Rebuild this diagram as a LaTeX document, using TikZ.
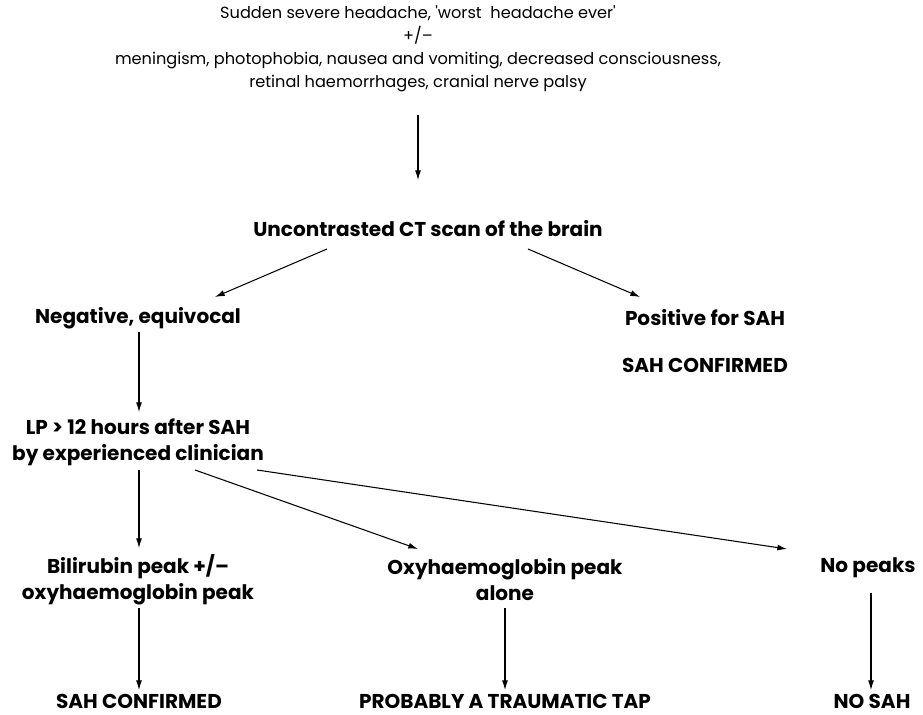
\documentclass[tikz,border=0pt]{standalone}
\usepackage{fontspec}
\setmainfont{Poppins}
\usetikzlibrary{arrows.meta,calc}

\begin{document}
\begin{tikzpicture}[x=0.02cm, y=-0.02cm,
    plain/.style={font=\fontsize{9.2}{13}\selectfont, align=center, inner sep=0pt},
    bold/.style={font=\fontsize{11.4}{14.8}\selectfont\bfseries, align=center, inner sep=0pt},
    arr/.style={-{Latex[length=5.5pt,width=3.4pt]}, line width=0.6pt}]
    \useasboundingbox (0,0) rectangle (923,715);

    % Presenting features
    \node[plain] (symptoms) at (418,49) {Sudden severe headache, \textquotesingle worst\ \ headache ever\textquotesingle\\
        +/--\\
        meningism, photophobia, nausea and vomiting, decreased consciousness,\\
        retinal haemorrhages, cranial nerve palsy};

    % CT branch
    \node[bold] (ct) at (428,229) {Uncontrasted CT scan of the brain};
    \node[bold] (neg) at (138,318) {Negative, equivocal};
    \node[bold] (pos) at (705,318) {Positive for SAH};
    \node[bold] (posconf) at (705,365) {SAH CONFIRMED};

    % LP branch
    \node[bold] (lp) at (138,442) {LP > 12 hours after SAH\\by experienced clinician};
    \node[bold] (bili) at (138,580) {Bilirubin peak +/--\\oxyhaemoglobin peak};
    \node[bold] (oxy) at (505,580) {Oxyhaemoglobin peak\\alone};
    \node[bold] (nopeak) at (868,568) {No peaks};

    % Outcomes
    \node[bold] (sahconf) at (139,701) {SAH CONFIRMED};
    \node[bold] (tap) at (505,701) {PROBABLY A TRAUMATIC TAP};
    \node[bold] (nosah) at (872,701) {NO SAH};

    % Arrows
    \draw[arr] ($(symptoms)+(0,66)$) -- ($(ct)+(-10,-49)$);
    \draw[arr] ($(ct)+(-101,20)$) -- ($(neg)+(77,-21)$);
    \draw[arr] ($(ct)+(100,20)$) -- ($(pos)+(-65,-21)$);
    \draw[arr] ($(neg)+(1,14)$) -- ($(lp)+(1,-30)$);
    \draw[arr] ($(lp)+(1,28)$) -- ($(bili)+(1,-32)$);
    \draw[arr] ($(lp)+(57,28)$) -- ($(oxy)+(-87,-31)$);
    \draw[arr] ($(lp)+(119,28)$) -- ($(nopeak)+(-81,-19)$);
    \draw[arr] ($(bili)+(1,28)$) -- ($(sahconf)+(0,-11)$);
    \draw[arr] ($(oxy)+(0,28)$) -- ($(tap)+(0,-11)$);
    \draw[arr] ($(nopeak)+(3,25)$) -- ($(nosah)+(-1,-11)$);
\end{tikzpicture}
\end{document}
